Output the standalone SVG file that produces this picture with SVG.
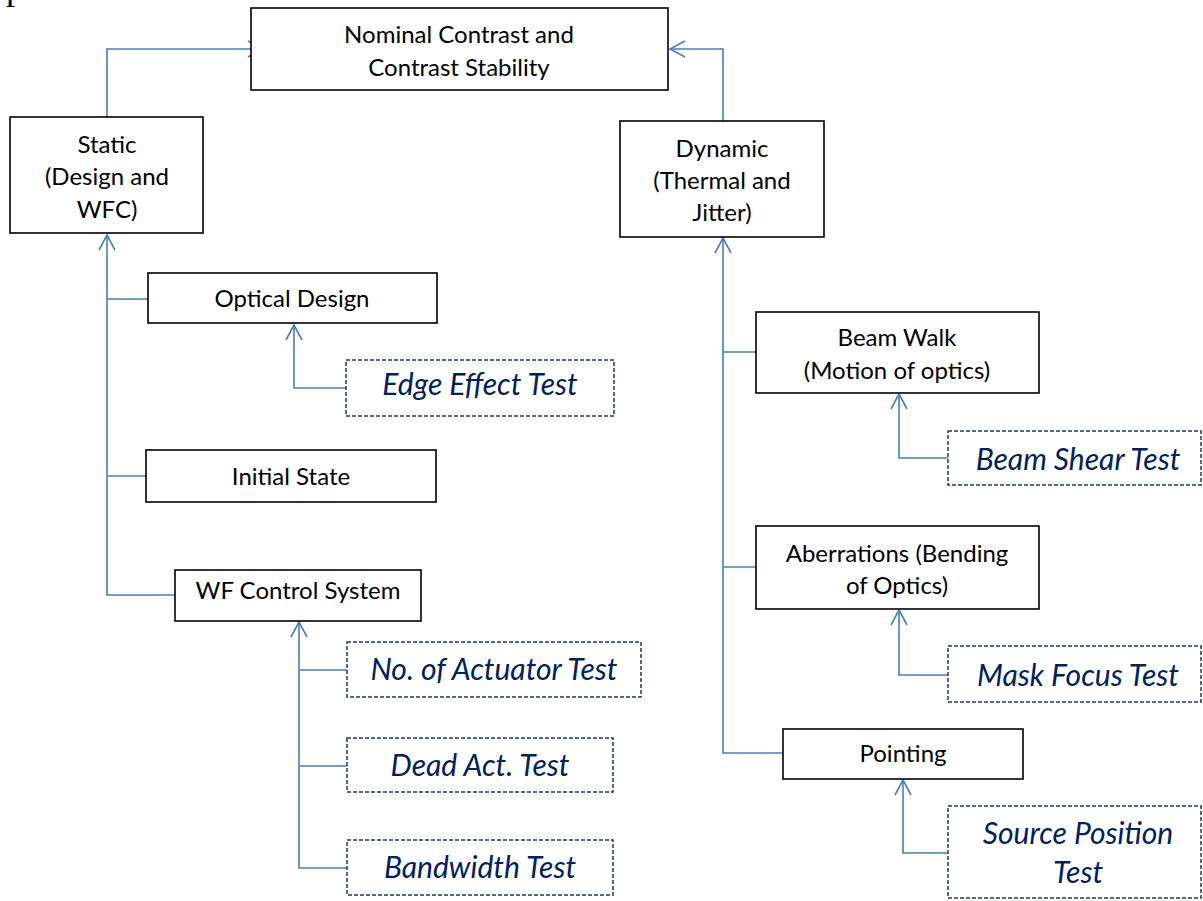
<svg xmlns="http://www.w3.org/2000/svg" width="1203" height="901" viewBox="0 0 1203 901">
<style>
.box{fill:#fff;stroke:#000;stroke-width:1.6}
.test{fill:#fff;stroke:#1F3864;stroke-width:1.5;stroke-dasharray:4 2}
.lbl{font-family:Lato,"Open Sans","Liberation Sans",sans-serif;font-size:24px;fill:#000;text-anchor:middle}
.tl{font-family:Lato,"Open Sans","Liberation Sans",sans-serif;font-size:30px;font-style:italic;fill:#002060;text-anchor:middle}
.con{fill:none;stroke:#4A7EBB;stroke-width:1.6}
</style>
<defs>
<marker id="arr" markerUnits="userSpaceOnUse" markerWidth="20" markerHeight="20" viewBox="-17 -10 19 20" refX="0" refY="0" orient="auto">
<path d="M-15,-8 L0,0 L-15,8" fill="none" stroke="#4A7EBB" stroke-width="1.6"/>
</marker>
</defs>
<rect width="1203" height="901" fill="#fff"/>
<text x="6" y="-1" font-family="Liberation Serif,serif" font-size="36">p</text>
<g id="connectors">
<path class="con" d="M107,117 V49 H263" marker-end="url(#arr)"/>
<path class="con" d="M723,121 V49 H670" marker-end="url(#arr)"/>
<path class="con" d="M175,595 H107 V235" marker-end="url(#arr)"/>
<path class="con" d="M107,299 H148 M107,476 H146"/>
<path class="con" d="M346,388 H294 V325" marker-end="url(#arr)"/>
<path class="con" d="M347,868 H299 V622" marker-end="url(#arr)"/>
<path class="con" d="M299,670 H347 M299,766 H347"/>
<path class="con" d="M783,753 H723 V238" marker-end="url(#arr)"/>
<path class="con" d="M723,352 H756 M723,567 H756"/>
<path class="con" d="M948,458 H899 V394" marker-end="url(#arr)"/>
<path class="con" d="M948,675 H899 V610" marker-end="url(#arr)"/>
<path class="con" d="M948,853 H903 V780" marker-end="url(#arr)"/>
</g>
<g id="nominal">
<rect class="box" x="251" y="8" width="417" height="82"/>
<text class="lbl" x="459" y="43">Nominal Contrast and</text>
<text class="lbl" x="459" y="76">Contrast Stability</text>
</g>
<g id="static">
<rect class="box" x="10" y="117" width="193" height="116"/>
<text class="lbl" x="107" y="153">Static</text>
<text class="lbl" x="107" y="185">(Design and</text>
<text class="lbl" x="107" y="218">WFC)</text>
</g>
<g id="dynamic">
<rect class="box" x="620" y="121" width="204" height="116"/>
<text class="lbl" x="722" y="157">Dynamic</text>
<text class="lbl" x="722" y="189">(Thermal and</text>
<text class="lbl" x="722" y="221">Jitter)</text>
</g>
<g id="optical">
<rect class="box" x="148" y="273" width="289" height="50"/>
<text class="lbl" x="292" y="307">Optical Design</text>
</g>
<g id="edge">
<rect class="test" x="346" y="360" width="268" height="56"/>
<text class="tl" x="480" y="395">Edge Effect Test</text>
</g>
<g id="initial">
<rect class="box" x="146" y="450" width="290" height="52"/>
<text class="lbl" x="291" y="485">Initial State</text>
</g>
<g id="wfc">
<rect class="box" x="175" y="570" width="246" height="51"/>
<text class="lbl" x="298" y="599">WF Control System</text>
</g>
<g id="actuator">
<rect class="test" x="347" y="642" width="294" height="55"/>
<text class="tl" x="494" y="680">No. of Actuator Test</text>
</g>
<g id="dead">
<rect class="test" x="347" y="738" width="266" height="54"/>
<text class="tl" x="480" y="776">Dead Act. Test</text>
</g>
<g id="bandwidth">
<rect class="test" x="347" y="840" width="266" height="55"/>
<text class="tl" x="480" y="878">Bandwidth Test</text>
</g>
<g id="beamwalk">
<rect class="box" x="756" y="312" width="283" height="81"/>
<text class="lbl" x="897" y="346">Beam Walk</text>
<text class="lbl" x="897" y="379">(Motion of optics)</text>
</g>
<g id="beamshear">
<rect class="test" x="948" y="431" width="253" height="54"/>
<text class="tl" x="1078" y="470">Beam Shear Test</text>
</g>
<g id="aberrations">
<rect class="box" x="756" y="526" width="283" height="83"/>
<text class="lbl" x="897" y="562">Aberrations (Bending</text>
<text class="lbl" x="897" y="594">of Optics)</text>
</g>
<g id="maskfocus">
<rect class="test" x="948" y="646" width="253" height="56"/>
<text class="tl" x="1078" y="686">Mask Focus Test</text>
</g>
<g id="pointing">
<rect class="box" x="783" y="729" width="240" height="50"/>
<text class="lbl" x="903" y="762">Pointing</text>
</g>
<g id="source">
<rect class="test" x="948" y="806" width="253" height="92"/>
<text class="tl" x="1078" y="844">Source Position</text>
<text class="tl" x="1078" y="883">Test</text>
</g>
</svg>
